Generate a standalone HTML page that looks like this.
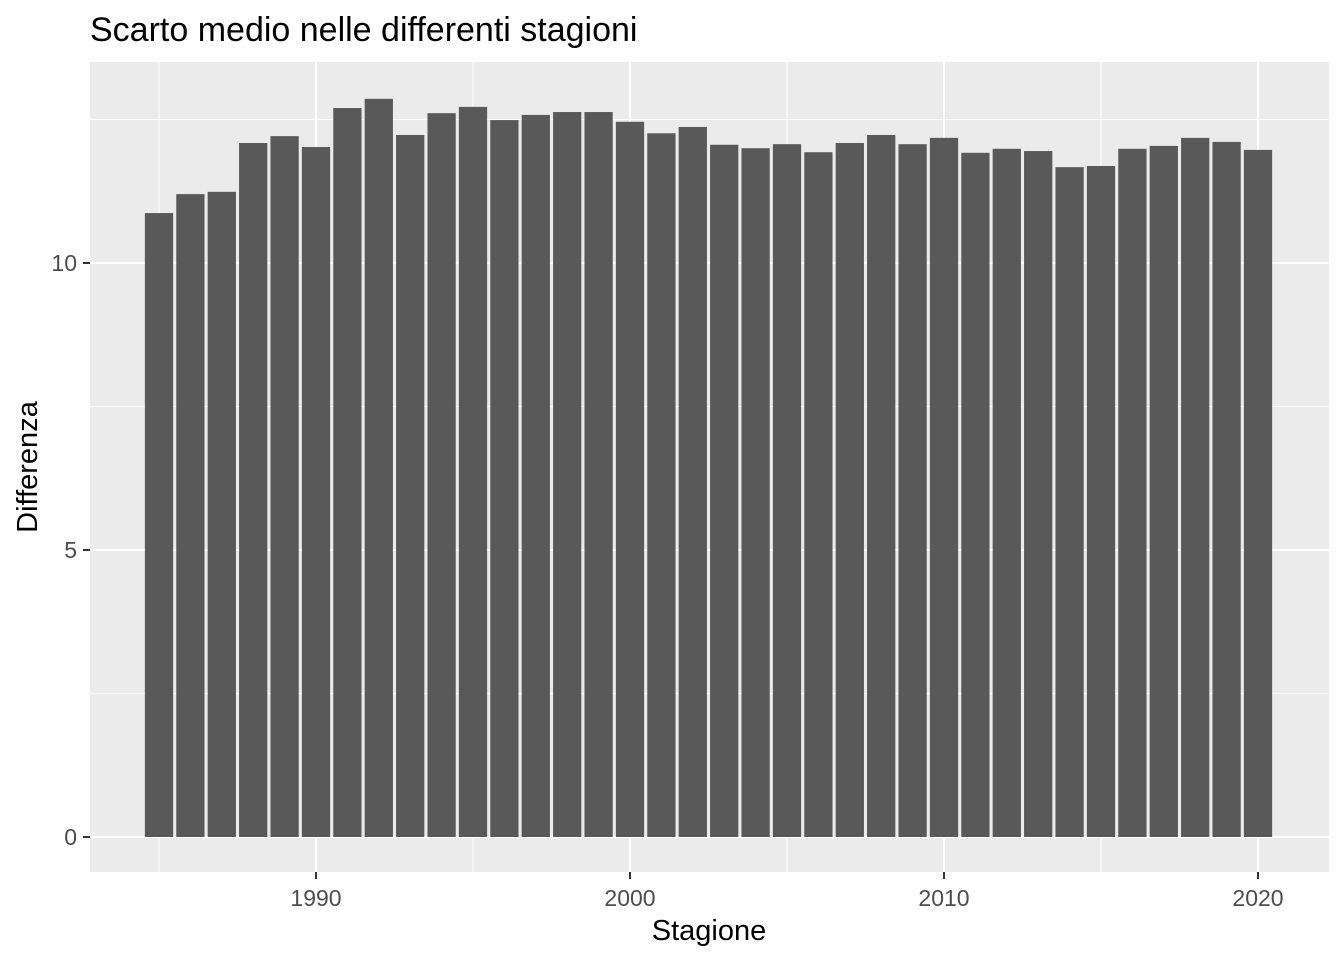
<!DOCTYPE html>
<html><head><meta charset="utf-8"><style>
body{margin:0;background:#fff;font-family:"Liberation Sans",Arial,sans-serif}
svg text{font-family:"Liberation Sans",Arial,sans-serif}
</style></head><body>
<svg id="chart" width="1344" height="960" xmlns="http://www.w3.org/2000/svg">
<text x="90" y="41" font-size="34" fill="#000">Scarto medio nelle differenti stagioni</text>
<rect x="90" y="62" width="1239" height="810" fill="#ebebeb"/>
<g id="grid"></g>
<g id="bars"></g>
<g id="axes"></g>
<text x="709" y="940" font-size="29" text-anchor="middle" fill="#000">Stagione</text>
<text transform="translate(37,467) rotate(-90)" font-size="29" text-anchor="middle" fill="#000">Differenza</text>
</svg>
<script>
const seasons=[1985,1986,1987,1988,1989,1990,1991,1992,1993,1994,1995,1996,1997,1998,1999,2000,2001,2002,2003,2004,2005,2006,2007,2008,2009,2010,2011,2012,2013,2014,2015,2016,2017,2018,2019,2020];
const values=[10.87,11.20,11.24,12.09,12.21,12.02,12.70,12.86,12.23,12.61,12.72,12.49,12.58,12.63,12.63,12.46,12.26,12.37,12.06,12.00,12.07,11.93,12.09,12.23,12.07,12.18,11.92,11.99,11.95,11.67,11.69,11.99,12.04,12.18,12.11,11.97];
const yTicks=[0,5,10];
const yMinor=[2.5,7.5,12.5];
const xTicks=[1990,2000,2010,2020];
const xMinor=[1985,1995,2005,2015];
const NS="http://www.w3.org/2000/svg";
function xs(v){return 316+(v-1990)*31.4;}
function ys(v){return 837-v*57.4;}
function mk(tag,attrs,parent){const e=document.createElementNS(NS,tag);for(const k in attrs)e.setAttribute(k,attrs[k]);document.getElementById(parent).appendChild(e);return e;}
yMinor.forEach(v=>{const l=mk('line',{x1:90,x2:1329,y1:ys(v),y2:ys(v),stroke:'#fff','stroke-width':1},'grid');

});
xMinor.forEach(v=>{const l=mk('line',{x1:xs(v),x2:xs(v),y1:62,y2:872,stroke:'#fff','stroke-width':1},'grid');

});
yTicks.forEach(v=>{const l=mk('line',{x1:90,x2:1329,y1:ys(v),y2:ys(v),stroke:'#fff','stroke-width':2},'grid');


const t=mk('line',{x1:83,x2:90,y1:ys(v),y2:ys(v),stroke:'#333','stroke-width':2},'axes');


const tx=mk('text',{x:77,y:ys(v)+8,'font-size':23,'text-anchor':'end',fill:'#4d4d4d'},'axes');tx.textContent=v;

});
xTicks.forEach(v=>{const l=mk('line',{x1:xs(v),x2:xs(v),y1:62,y2:872,stroke:'#fff','stroke-width':2},'grid');


const t=mk('line',{x1:xs(v),x2:xs(v),y1:872,y2:879,stroke:'#333','stroke-width':2},'axes');


const tx=mk('text',{x:xs(v),y:906,'font-size':23,'text-anchor':'middle',fill:'#4d4d4d'},'axes');tx.textContent=v;

});
const bw=0.9*31.4;
seasons.forEach((s,i)=>{const r=mk('rect',{x:xs(s)-bw/2,y:ys(values[i]),width:bw,height:ys(0)-ys(values[i]),fill:'#595959'},'bars');

});
</script>
</body></html>
